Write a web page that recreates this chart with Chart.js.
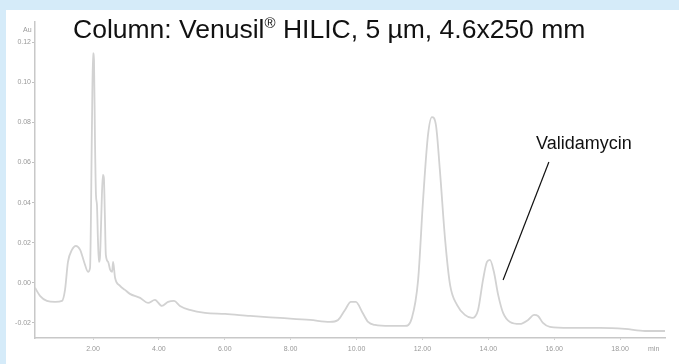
<!DOCTYPE html>
<html>
<head>
<meta charset="utf-8">
<script src="https://cdn.jsdelivr.net/npm/chart.js@4/dist/chart.umd.min.js"></script>
<style>
  body { margin: 0; background: #d5ebf9; width: 679px; height: 364px; overflow: hidden; font-family: "Liberation Sans", Arial, sans-serif; }
  #box { position: absolute; left: 6px; top: 10px; width: 673px; height: 354px; background: #fff; }
  #titulo { position: absolute; left: 73px; top: 14px; font-size: 26.5px; color: #111; white-space: nowrap; }
  #titulo sup { font-size: 15px; vertical-align: 10px; }
  #rotulo { position: absolute; left: 536px; top: 133px; font-size: 18px; color: #111; }
  .eixo { position: absolute; font-size: 7px; color: #999; }
</style>
</head>
<body>
<div id="box"><canvas id="grafico" width="673" height="354"></canvas></div>
<div id="titulo">Column: Venusil<sup>®</sup> HILIC, 5 µm, 4.6x250 mm</div>
<div id="rotulo">Validamycin</div>
<div class="eixo" style="left:23px; top:26px;">Au</div>
<div class="eixo" style="left:648px; top:345px;">min</div>
<script>
// Retention times (min) and detector signal (AU)
const times = [
  0.24, 0.39, 0.60, 0.85, 1.06, 1.15, 1.24, 1.36, 1.48, 1.61, 1.73, 1.85, 1.91,
  1.97, 2.00, 2.03, 2.06, 2.09, 2.12, 2.15, 2.18, 2.21, 2.24, 2.27, 2.30, 2.33,
  2.36, 2.39, 2.46, 2.52, 2.58, 2.61, 2.67, 2.82, 2.97, 3.12, 3.43, 3.67, 3.88,
  4.09, 4.28, 4.46, 4.64, 4.94, 5.40, 6.01, 6.77, 7.68, 8.59, 9.19, 9.44, 9.65,
  9.83, 9.98, 10.17, 10.35, 10.56, 11.02, 11.47, 11.68, 11.87, 12.02, 12.17,
  12.29, 12.41, 12.53, 12.69, 12.84, 13.05, 13.29, 13.51, 13.69, 13.84, 13.96,
  14.05, 14.17, 14.30, 14.45, 14.66, 14.96, 15.21, 15.39, 15.51, 15.66, 15.87,
  16.48, 17.39, 18.15, 18.76, 19.37
];
const absorbance = [
  -0.0025, -0.0065, -0.0090, -0.0095, -0.0090, -0.0035, 0.0104, 0.0164, 0.0184, 0.0164, 0.0104, 0.0055, 0.0075,
  0.0812, 0.1145, 0.1110, 0.0710, 0.0438, 0.0388, 0.0214, 0.0104, 0.0124, 0.0264, 0.0438, 0.0538, 0.0523,
  0.0338, 0.0139, 0.0104, 0.0065, 0.0055, 0.0104, 0.0025, -0.0015, -0.0035, -0.0055, -0.0075, -0.0100, -0.0085,
  -0.0115, -0.0095, -0.0090, -0.0115, -0.0135, -0.0150, -0.0155, -0.0165, -0.0175, -0.0185, -0.0195, -0.0185, -0.0135,
  -0.0095, -0.0095, -0.0145, -0.0195, -0.0210, -0.0215, -0.0215, -0.0175, 0.0015, 0.0413, 0.0737,
  0.0826, 0.0787, 0.0563, 0.0214, -0.0010, -0.0110, -0.0160, -0.0175, -0.0135, 0.0015, 0.0104,
  0.0114, 0.0055, -0.0060, -0.0150, -0.0195, -0.0205, -0.0185, -0.0160, -0.0165, -0.0200, -0.0220,
  -0.0225, -0.0225, -0.0230, -0.0240, -0.0240
];
const xTicks = [2, 4, 6, 8, 10, 12, 14, 16, 18];
const yTicks = [-0.02, 0.00, 0.02, 0.04, 0.06, 0.08, 0.10, 0.12];

// Leader line from the "Validamycin" label to its peak (min, AU)
const setaInicio = [15.84, 0.0602];
const setaFim = [14.45, 0.0014];

const pontos = times.map((t, i) => ({ x: t, y: absorbance[i] }));

// Plugin that draws the label's leader line through the scales
const linhaRotulo = {
    id: 'linhaRotulo',
    afterDatasetsDraw(chart) {
        const ctx = chart.ctx;
        const x = chart.scales.x, y = chart.scales.y;
        ctx.save();
        ctx.strokeStyle = '#111';
        ctx.lineWidth = 1.2;
        ctx.beginPath();
        ctx.moveTo(x.getPixelForValue(setaInicio[0]), y.getPixelForValue(setaInicio[1]));
        ctx.lineTo(x.getPixelForValue(setaFim[0]), y.getPixelForValue(setaFim[1]));
        ctx.stroke();
        ctx.restore();
    }
};

document.addEventListener("DOMContentLoaded", function () {
    const ctx = document.getElementById('grafico').getContext('2d');

    new Chart(ctx, {
        type: 'line',
        data: {
            datasets: [{
                data: pontos,
                borderColor: '#d2d2d2',
                borderWidth: 1.8,
                pointRadius: 0,
                cubicInterpolationMode: 'monotone',
                fill: false
            }]
        },
        options: {
            responsive: false,
            animation: false,
            events: [],
            layout: { padding: { top: 12, right: 14, left: 0, bottom: 0 } },
            plugins: { legend: { display: false }, tooltip: { enabled: false } },
            scales: {
                x: {
                    type: 'linear',
                    min: 0.239,
                    max: 19.365,
                    afterBuildTicks: s => { s.ticks = xTicks.map(v => ({ value: v })); },
                    afterFit: s => { s.height = 26; },
                    border: { color: '#c8c8c8', width: 1.5 },
                    grid: { drawOnChartArea: false, tickLength: 2, color: '#d0d0d0' },
                    ticks: {
                        padding: 5,
                        color: '#999',
                        font: { size: 7, family: 'Liberation Sans' },
                        maxRotation: 0,
                        callback: v => v.toFixed(2)
                    }
                },
                y: {
                    min: -0.0275,
                    max: 0.13,
                    afterBuildTicks: s => { s.ticks = yTicks.map(v => ({ value: v })); },
                    afterFit: s => { s.width = 29; },
                    border: { color: '#c8c8c8', width: 1.5 },
                    grid: { drawOnChartArea: false, tickLength: 3, color: '#c0c0c0' },
                    ticks: {
                        padding: 1,
                        color: '#999',
                        font: { size: 7, family: 'Liberation Sans' },
                        callback: v => v.toFixed(2)
                    }
                }
            }
        },
        plugins: [linhaRotulo]
    });
});
</script>
</body>
</html>
